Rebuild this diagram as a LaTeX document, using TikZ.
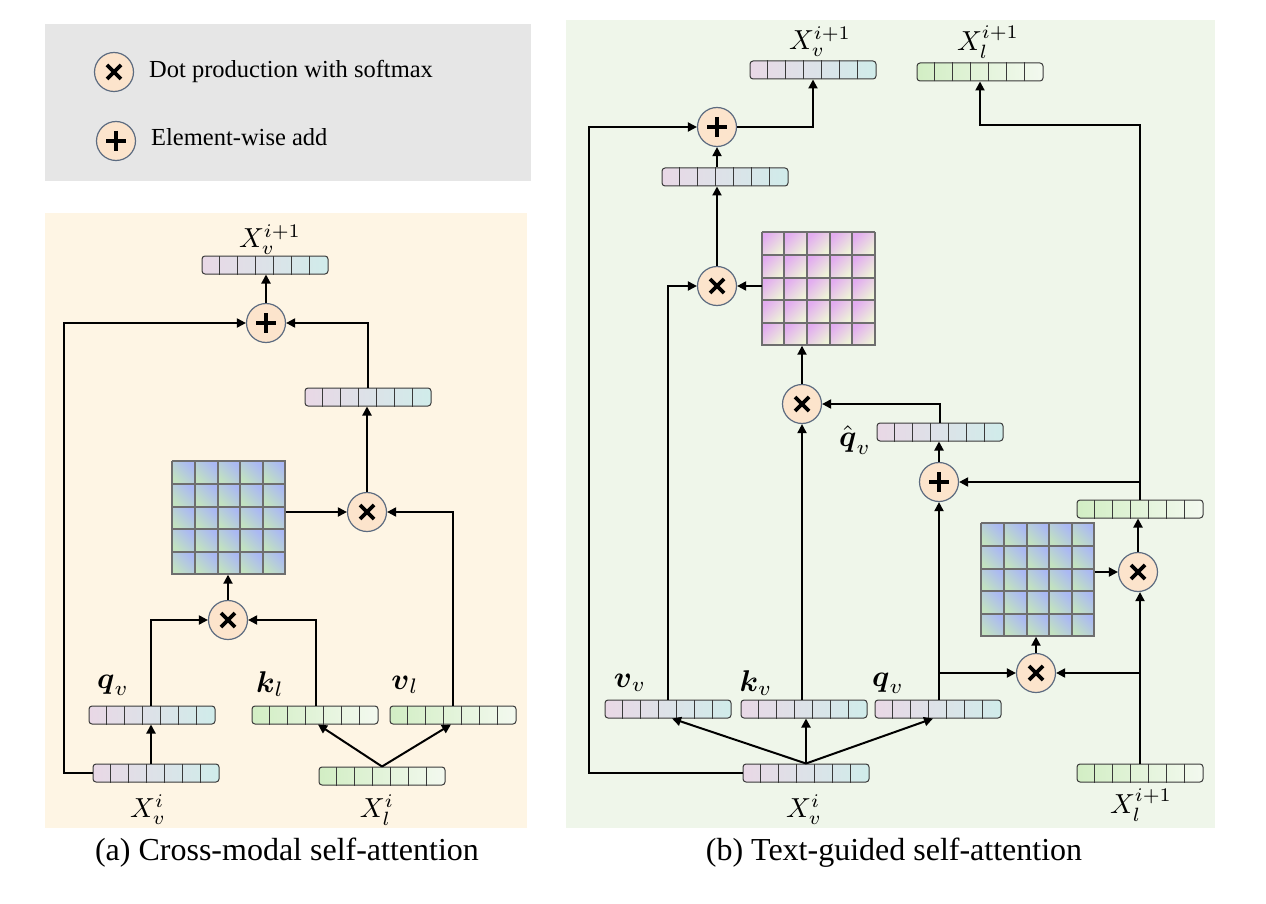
\RequirePackage{fix-cm}
\documentclass[tikz,border=0pt]{standalone}
\usepackage{amsmath}
\usepackage{graphicx}
\usepackage{fontspec}
\setmainfont{Liberation Serif}
\usetikzlibrary{arrows.meta,calc}
\definecolor{legbg}{HTML}{E6E6E6}
\definecolor{abg}{HTML}{FEF5E4}
\definecolor{bbg}{HTML}{EFF6EA}
\definecolor{circfill}{HTML}{FCE4CC}
\definecolor{circdraw}{HTML}{5C6B80}
\definecolor{purpL}{HTML}{E9D8E6}
\definecolor{tealR}{HTML}{D0ECEA}
\definecolor{greenL}{HTML}{D2EEC4}
\definecolor{greenR}{HTML}{F3F9EF}
\definecolor{barline}{HTML}{3A3A3A}
\definecolor{gridc}{HTML}{6E6E6E}
\definecolor{mblue}{HTML}{AAB8F4}
\definecolor{mgreen}{HTML}{C2E2C0}
\definecolor{mpink}{HTML}{E2ACF0}
\definecolor{myell}{HTML}{EEF3D8}
\tikzset{
  conn/.style={line width=2pt, -{Triangle[length=9pt,width=9pt]}},
  barnode/.style={rectangle, minimum width=126pt, minimum height=18pt, inner sep=0pt,
    rounded corners=3pt, draw=barline, line width=1pt},
  opnode/.style={circle, minimum size=39pt, inner sep=0pt, fill=circfill, draw=circdraw, line width=1.2pt},
  lab/.style={inner sep=0pt},
  captxt/.style={font=\fontsize{32}{36}\selectfont, inner sep=0pt},
  legtxt/.style={font=\fontsize{24.5}{28}\selectfont, inner sep=0pt},
}
\newcommand\mlab[1]{\scalebox{2.75}{$#1$}}
\newcommand\blab[1]{\scalebox{3.0}{$#1$}}
\newcommand\vecbar[5]{%
  \node[barnode, left color=#4, right color=#5] (#1) at (#2,#3) {};
  \foreach \k in {1,...,6}{\draw[barline, line width=1pt] ($(#1.south west)+(\k*18,0)$) -- ($(#1.north west)+(\k*18,0)$);}%
}
\newcommand\dotop[3]{%
  \node[opnode] (#1) at (#2,#3) {};
  \draw[line width=3.6pt] ($(#1)+(-7,-7)$) -- ($(#1)+(7,7)$) ($(#1)+(-7,7)$) -- ($(#1)+(7,-7)$);%
}
\newcommand\addop[3]{%
  \node[opnode] (#1) at (#2,#3) {};
  \draw[line width=3.6pt] ($(#1)+(-10,0)$) -- ($(#1)+(10,0)$) ($(#1)+(0,-10)$) -- ($(#1)+(0,10)$);%
}
\newcommand\mgrid[6]{%
  \node[minimum size=113pt, inner sep=0pt] (#1) at (#2,#3) {};
  \foreach \i in {0,...,4}{\foreach \j in {0,...,4}{%
    \shade[top color=#4, bottom color=#5, shading angle=#6] ($(#1.north west)+(\i*22.6,\j*22.6)$) rectangle ++(22.6,22.6);}}%
  \foreach \k in {0,...,5}{%
    \draw[gridc, line width=2pt] ($(#1.north west)+(\k*22.6,0)$) -- ($(#1.south west)+(\k*22.6,0)$);
    \draw[gridc, line width=2pt] ($(#1.north west)+(0,\k*22.6)$) -- ($(#1.north east)+(0,\k*22.6)$);}%
}
\begin{document}
\begin{tikzpicture}[x=1pt,y=-1pt]
\useasboundingbox (0,0) rectangle (1266,904);
\fill[white] (0,0) rectangle (1266,904);
% backgrounds
\fill[legbg] (45,24) rectangle (531,181);
\fill[abg] (45,213) rectangle (527,828);
\fill[bbg] (566,20) rectangle (1215,828);
% legend
\dotop{legdot}{114}{72}
\addop{legadd}{116}{141}
\node[legtxt, anchor=base west] (legt1) at (149,78) {Dot production with softmax};
\node[legtxt, anchor=base west] (legt2) at (151,146) {Element-wise add};

% ---------------- panel (a)
\vecbar{xvtopa}{265}{265}{purpL}{tealR}
\vecbar{ba}{368}{397}{purpL}{tealR}
\vecbar{qva}{152}{715}{purpL}{tealR}
\vecbar{kla}{315}{715}{greenL}{greenR}
\vecbar{vla}{453}{715}{greenL}{greenR}
\vecbar{xvia}{156}{773}{purpL}{tealR}
\vecbar{xlia}{382}{776}{greenL}{greenR}
\mgrid{mata}{229}{518}{mblue}{mgreen}{-45}
\addop{adda}{266}{323}
\dotop{dota2}{367}{512}
\dotop{dota1}{228}{620}

\draw[conn] (adda.north) -- (adda.north |- xvtopa.south);
\draw[conn] (xvia.west) -- ++(-29,0) |- (adda.west);
\draw[conn] (ba.north) |- (adda.east);
\draw[conn] (mata.east |- dota2.west) -- (dota2.west);
\draw[conn] (dota2.north) -- (dota2.north |- ba.south);
\draw[conn] (vla.north) |- (dota2.east);
\draw[conn] (dota1.north) -- (dota1.north |- mata.south);
\draw[conn] ([xshift=-1pt]qva.north) |- (dota1.west);
\draw[conn] ([xshift=1pt]kla.north) |- (dota1.east);
\draw[conn] ([xshift=-1pt]qva.south |- xvia.north) -- ([xshift=-1pt]qva.south);
\draw[conn] (xlia.north) -- ([xshift=3pt]kla.south);
\draw[conn] (xlia.north) -- ([xshift=-2pt]vla.south);

\node[lab] (lxvtopa) at (270,240) {\mlab{X_v^{i+1}}};
\node[lab] (lqva) at (113,685) {\blab{\boldsymbol{q}_v}};
\node[lab] (lkla) at (270,684) {\blab{\boldsymbol{k}_l}};
\node[lab] (lvla) at (405,685) {\blab{\boldsymbol{v}_l}};
\node[lab] (lxvia) at (148,810) {\mlab{X_v^i}};
\node[lab] (lxlia) at (377,810) {\mlab{X_l^i}};
\node[captxt, anchor=base] (capa) at (287,860) {(a) Cross-modal self-attention};

% ---------------- panel (b)
\vecbar{xvtopb}{813}{70}{purpL}{tealR}
\vecbar{xltopb}{980}{72}{greenL}{greenR}
\vecbar{bb1}{725}{177}{purpL}{tealR}
\vecbar{qh}{940}{432}{purpL}{tealR}
\vecbar{gb}{1140}{509}{greenL}{greenR}
\vecbar{vv}{668}{709}{purpL}{tealR}
\vecbar{kv}{804}{709}{purpL}{tealR}
\vecbar{qvb}{938}{709}{purpL}{tealR}
\vecbar{xvib}{806}{773}{purpL}{tealR}
\vecbar{xlb}{1140}{773}{greenL}{greenR}
\mgrid{matp}{818.5}{289}{mpink}{myell}{45}
\mgrid{matb}{1038}{580}{mblue}{mgreen}{-45}
\addop{addb1}{717}{127}
\dotop{dotb1}{717}{286}
\dotop{dotb2}{802}{404}
\addop{addb2}{939}{482}
\dotop{dotb3}{1138}{572}
\dotop{dotb4}{1036}{673}

\draw[conn] (addb1.east) -| (xvtopb.south);
\draw[conn] (xvib.west) -- ++(-154,0) |- (addb1.west);
\draw[conn] (addb1.south |- bb1.north) -- (addb1.south);
\draw[conn] (dotb1.north) -- (dotb1.north |- bb1.south);
\draw[conn] (matp.west |- dotb1.east) -- (dotb1.east);
\draw[conn] (vv.north) |- (dotb1.west);
\draw[conn] (dotb2.north) -- (dotb2.north |- matp.south);
\draw[conn] (qh.north) |- (dotb2.east);
\draw[conn] (dotb2.south |- kv.north) -- (dotb2.south);
\draw[conn] (addb2.north) -- (addb2.north |- qh.south);
\draw[conn] (gb.north) |- ($(xltopb.south)+(0,44)$) -- (xltopb.south);
\draw[conn] (gb.north |- addb2.east) -- (addb2.east);
\draw[conn] (dotb3.north) -- (dotb3.north |- gb.south);
\draw[conn] (matb.east |- dotb3.west) -- (dotb3.west);
\draw[conn] (dotb4.north) -- (dotb4.north |- matb.south);
\draw[conn] (addb2.south |- qvb.north) -- (addb2.south);
\draw[conn] (addb2.south |- dotb4.west) -- (dotb4.west);
\draw[conn] (xlb.north) -- (xlb.north |- dotb3.south);
\draw[conn] (xlb.north |- dotb4.east) -- (dotb4.east);
\draw[conn] (xvib.north) -- ([xshift=4pt]vv.south);
\draw[conn] (xvib.north) -- (xvib.north |- kv.south);
\draw[conn] (xvib.north) -- ([xshift=-5pt]qvb.south);

\node[lab] (lxvtopb) at (820,42) {\mlab{X_v^{i+1}}};
\node[lab] (lxltopb) at (988,42) {\mlab{X_l^{i+1}}};
\node[lab] (lqh) at (855,440) {\blab{\hat{\boldsymbol{q}}_v}};
\node[lab] (lvv) at (630,683) {\blab{\boldsymbol{v}_v}};
\node[lab] (lkv) at (756,683) {\blab{\boldsymbol{k}_v}};
\node[lab] (lqvb) at (888,683) {\blab{\boldsymbol{q}_v}};
\node[lab] (lxvib) at (804,810) {\mlab{X_v^i}};
\node[lab] (lxlb) at (1141,805) {\mlab{X_l^{i+1}}};
\node[captxt, anchor=base] (capb) at (894,860) {(b) Text-guided self-attention};
\end{tikzpicture}
\end{document}
